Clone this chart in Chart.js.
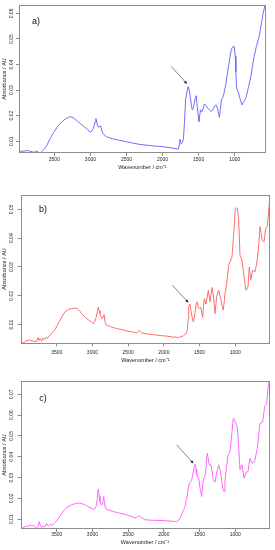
<!DOCTYPE html>
<html><head><meta charset="utf-8">
<script src="https://cdn.jsdelivr.net/npm/chart.js@4"></script>
<style>
html,body{margin:0;padding:0;background:#fff;width:275px;height:550px;overflow:hidden}
canvas{position:absolute;left:0}
</style></head><body>
<canvas id="ca" width="275" height="172" style="top:0px"></canvas>
<canvas id="cb" width="275" height="185" style="top:180px"></canvas>
<canvas id="cc" width="275" height="185" style="top:365px"></canvas>
<script>
// ---------- DATA ----------
const wavenumbersA = [3990,3950,3900,3860,3840,3800,3770,3740,3720,3700,3680,3650,3620,3605,3550,3500,3450,3400,3350,3300,3273,3230,3180,3100,3050,2997,2960,2935,2924,2905,2892,2870,2859,2840,2823,2780,2700,2600,2500,2400,2300,2200,2100,2000,1900,1800,1780,1770,1762,1750,1740,1725,1710,1695,1681,1660,1644,1630,1616,1600,1588,1570,1550,1533,1519,1505,1497,1485,1474,1460,1451,1435,1420,1400,1373,1350,1327,1300,1275,1258,1235,1213,1200,1185,1157,1140,1120,1093,1080,1065,1045,1029,1006,992,983,974,946,920,900,875,845,810,776,750,730,700,661,630,606,578];
const absorbanceA  = [0.0060,0.0061,0.0062,0.0064,0.0060,0.0058,0.0057,0.0062,0.0056,0.0055,0.0058,0.0066,0.0076,0.0083,0.0115,0.0138,0.0160,0.0175,0.0187,0.0194,0.0196,0.0191,0.0178,0.0160,0.0148,0.0134,0.0150,0.0175,0.0189,0.0165,0.0155,0.0158,0.0160,0.0140,0.0129,0.0118,0.0110,0.0104,0.0098,0.0092,0.0087,0.0084,0.0081,0.0079,0.0075,0.0070,0.0069,0.0085,0.0108,0.0098,0.0090,0.0095,0.0110,0.0180,0.0262,0.0295,0.0314,0.0300,0.0275,0.0240,0.0223,0.0233,0.0265,0.0278,0.0236,0.0200,0.0177,0.0200,0.0223,0.0215,0.0216,0.0230,0.0246,0.0240,0.0229,0.0222,0.0216,0.0225,0.0238,0.0242,0.0225,0.0194,0.0220,0.0262,0.0275,0.0300,0.0327,0.0380,0.0400,0.0432,0.0460,0.0469,0.0471,0.0432,0.0370,0.0308,0.0288,0.0260,0.0242,0.0255,0.0269,0.0310,0.0353,0.0400,0.0432,0.0470,0.0510,0.0560,0.0600,0.0634];

const wavenumbersB = [4000,3980,3960,3940,3920,3900,3880,3860,3840,3820,3800,3780,3760,3745,3730,3710,3690,3670,3650,3630,3610,3594,3560,3524,3490,3454,3420,3384,3340,3290,3250,3212,3180,3150,3100,3058,3020,2988,2965,2950,2930,2918,2905,2894,2875,2862,2848,2838,2825,2810,2750,2660,2600,2520,2450,2380,2360,2344,2330,2310,2250,2148,2050,1960,1900,1860,1840,1820,1800,1780,1760,1740,1720,1704,1690,1672,1660,1652,1634,1622,1610,1598,1588,1570,1550,1532,1518,1504,1484,1470,1456,1445,1434,1410,1378,1354,1326,1308,1284,1260,1232,1204,1185,1168,1144,1120,1092,1064,1046,1018,1000,985,972,952,934,906,878,850,822,804,784,757,724,692,670,654,640,626,598,574,552,530,514];
const absorbanceB  = [0.0035,0.0038,0.0036,0.0042,0.0045,0.0043,0.0048,0.0044,0.0046,0.0040,0.0043,0.0041,0.0055,0.0045,0.0052,0.0042,0.0054,0.0047,0.0056,0.0052,0.0060,0.0063,0.0072,0.0083,0.0098,0.0115,0.0130,0.0144,0.0152,0.0156,0.0157,0.0156,0.0148,0.0138,0.0125,0.0117,0.0110,0.0103,0.0112,0.0124,0.0145,0.0161,0.0148,0.0138,0.0125,0.0120,0.0128,0.0135,0.0112,0.0100,0.0093,0.0086,0.0083,0.0078,0.0075,0.0071,0.0076,0.0080,0.0075,0.0071,0.0068,0.0065,0.0062,0.0060,0.0058,0.0055,0.0058,0.0054,0.0057,0.0055,0.0060,0.0058,0.0063,0.0066,0.0068,0.0080,0.0120,0.0161,0.0171,0.0150,0.0132,0.0120,0.0109,0.0130,0.0167,0.0179,0.0160,0.0156,0.0161,0.0140,0.0124,0.0160,0.0190,0.0171,0.0219,0.0179,0.0229,0.0203,0.0138,0.0198,0.0219,0.0190,0.0165,0.0150,0.0206,0.0243,0.0306,0.0324,0.0335,0.0428,0.0503,0.0505,0.0505,0.0463,0.0341,0.0324,0.0266,0.0219,0.0231,0.0300,0.0254,0.0289,0.0283,0.0324,0.0380,0.0440,0.0420,0.0393,0.0387,0.0434,0.0440,0.0500,0.0550];

const wavenumbersC = [4004,3980,3950,3920,3900,3874,3850,3830,3800,3780,3760,3744,3730,3710,3690,3670,3650,3640,3620,3600,3585,3570,3550,3530,3500,3465,3430,3395,3360,3310,3268,3230,3198,3160,3128,3080,3034,3010,2988,2965,2950,2935,2918,2905,2894,2880,2866,2852,2842,2830,2818,2780,2706,2620,2520,2450,2390,2370,2358,2335,2310,2264,2150,2054,1950,1880,1840,1820,1800,1774,1755,1736,1720,1704,1688,1672,1658,1644,1626,1610,1598,1588,1575,1560,1550,1540,1512,1494,1470,1460,1448,1420,1405,1392,1378,1364,1340,1308,1284,1268,1252,1232,1204,1176,1158,1145,1130,1102,1074,1046,1028,1015,1000,985,972,952,934,906,878,850,822,794,766,729,692,654,617,589,561,538,524];
const absorbanceC  = [0.0053,0.0058,0.0062,0.0068,0.0065,0.0073,0.0068,0.0072,0.0062,0.0058,0.0065,0.0088,0.0072,0.0060,0.0068,0.0062,0.0075,0.0080,0.0066,0.0072,0.0078,0.0069,0.0075,0.0082,0.0092,0.0110,0.0129,0.0143,0.0156,0.0166,0.0172,0.0176,0.0178,0.0176,0.0172,0.0165,0.0156,0.0152,0.0148,0.0152,0.0160,0.0190,0.0245,0.0210,0.0184,0.0172,0.0168,0.0185,0.0209,0.0180,0.0153,0.0145,0.0137,0.0129,0.0121,0.0113,0.0105,0.0112,0.0117,0.0113,0.0108,0.0097,0.0095,0.0094,0.0092,0.0090,0.0089,0.0088,0.0092,0.0105,0.0120,0.0137,0.0148,0.0160,0.0190,0.0217,0.0250,0.0273,0.0280,0.0289,0.0310,0.0329,0.0350,0.0364,0.0340,0.0313,0.0297,0.0249,0.0209,0.0250,0.0289,0.0313,0.0370,0.0417,0.0390,0.0361,0.0361,0.0289,0.0278,0.0310,0.0337,0.0361,0.0321,0.0249,0.0233,0.0280,0.0329,0.0409,0.0425,0.0520,0.0585,0.0580,0.0569,0.0555,0.0545,0.0441,0.0337,0.0361,0.0297,0.0325,0.0329,0.0393,0.0369,0.0377,0.0441,0.0561,0.0566,0.0641,0.0657,0.0745,0.0764];

const xTickValues = [3500, 3000, 2500, 2000, 1500, 1000];
const yTicksA = [0.01, 0.02, 0.03, 0.04, 0.05, 0.06];
const yTicksB = [0.01, 0.02, 0.03, 0.04, 0.05];
const yTicksC = [0.01, 0.02, 0.03, 0.04, 0.05, 0.06, 0.07];
const panelLabels = ['a)', 'b)', 'c)'];
const xAxisTitle = 'Wavenumber / cm⁻¹';
const yAxisTitle = 'Absorbance / AU';

// ---------- RENDER ----------
const FONT = '"Liberation Sans", Arial, sans-serif';

const decorPlugin = {
  id: 'decor',
  afterDatasetsDraw(chart, args, o) {
    const {ctx, chartArea: ca, scales: {x, y}} = chart;
    ctx.save();
    ctx.strokeStyle = '#8c8c8c';
    ctx.lineWidth = 1;
    ctx.strokeRect(Math.round(ca.left) + 0.5, Math.round(ca.top) + 0.5,
                   Math.round(ca.right - ca.left) - 1, Math.round(ca.bottom - ca.top) - 1);
    // arrow
    const x1 = x.getPixelForValue(o.arrow[0]), y1 = y.getPixelForValue(o.arrow[1]);
    const x2 = x.getPixelForValue(o.arrow[2]), y2 = y.getPixelForValue(o.arrow[3]);
    ctx.strokeStyle = '#6a6a6a';
    ctx.lineWidth = 0.8;
    ctx.beginPath(); ctx.moveTo(x1, y1); ctx.lineTo(x2, y2); ctx.stroke();
    const ang = Math.atan2(y2 - y1, x2 - x1), L = 3.2, W = 0.45;
    ctx.fillStyle = '#111';
    ctx.beginPath();
    ctx.moveTo(x2, y2);
    ctx.lineTo(x2 - L * Math.cos(ang - W), y2 - L * Math.sin(ang - W));
    ctx.lineTo(x2 - L * Math.cos(ang + W), y2 - L * Math.sin(ang + W));
    ctx.closePath(); ctx.fill();
    // panel label
    ctx.fillStyle = '#111';
    ctx.font = '9px ' + FONT;
    ctx.textAlign = 'center'; ctx.textBaseline = 'middle';
    ctx.fillText(o.label, x.getPixelForValue(o.labelPos[0]), y.getPixelForValue(o.labelPos[1]));
    ctx.restore();
  }
};

function makeChart(id, wn, ab, yTicks, c) {
  const pts = wn.map((w, i) => ({x: w, y: ab[i]}));
  new Chart(document.getElementById(id), {
    type: 'line',
    data: {datasets: [{data: pts, borderColor: c.color, borderWidth: 1, pointRadius: 0, fill: false, tension: 0}]},
    plugins: [decorPlugin],
    options: {
      responsive: false, animation: false, devicePixelRatio: 1,
      layout: {padding: {top: c.padTop, right: c.padRight, left: 0, bottom: 0}},
      plugins: {legend: {display: false}, tooltip: {enabled: false},
        decor: {arrow: c.arrow, label: c.label, labelPos: c.labelPos}},
      scales: {
        x: {
          type: 'linear', reverse: true, min: c.xmin, max: c.xmax,
          afterBuildTicks: s => { s.ticks = xTickValues.map(v => ({value: v})); },
          afterFit: s => { s.height = c.xHeight; },
          grid: {drawOnChartArea: false, tickLength: 3, color: '#8c8c8c'},
          border: {display: false},
          ticks: {font: {family: FONT, size: 5}, color: '#222', padding: c.xTickPad, maxRotation: 0, autoSkip: false,
                  callback: v => String(v)},
          title: {display: true, text: xAxisTitle, font: {family: FONT, size: 5.5}, color: '#222',
                  padding: {top: 0, bottom: c.xTitlePad}}
        },
        y: {
          type: 'linear', min: c.ymin, max: c.ymax,
          afterBuildTicks: s => { s.ticks = yTicks.map(v => ({value: v})); },
          afterFit: s => { s.width = c.yWidth; },
          grid: {drawOnChartArea: false, tickLength: 3, color: '#8c8c8c'},
          border: {display: false},
          ticks: {font: {family: FONT, size: 5}, color: '#222', padding: c.yTickPad, minRotation: 90, maxRotation: 90,
                  crossAlign: 'center', autoSkip: false, callback: v => v.toFixed(2)},
          title: {display: true, text: yAxisTitle, font: {family: FONT, size: 5.5}, color: '#222',
                  padding: {top: 1, bottom: 0}}
        }
      }
    }
  });
}

makeChart('ca', wavenumbersA, absorbanceA, yTicksA, {
  color: '#6e6eff', xmin: 566, xmax: 3990, ymin: 0.0054, ymax: 0.0633,
  padTop: 5, padRight: 9, yWidth: 19, xHeight: 19, xTickPad: 1, xTitlePad: 1.5, yTickPad: -0.9,
  arrow: [1880, 0.0393, 1663, 0.0325], label: panelLabels[0], labelPos: [3754, 0.057]
});
makeChart('cb', wavenumbersB, absorbanceB, yTicksB, {
  color: '#ff6e6e', xmin: 514, xmax: 4004, ymin: 0.0035, ymax: 0.0551,
  padTop: 14.7, padRight: 5, yWidth: 20.7, xHeight: 21.7, xTickPad: 3, xTitlePad: 1.5, yTickPad: 1.1,
  arrow: [1882, 0.0237, 1658, 0.0177], label: panelLabels[1], labelPos: [3692, 0.0501]
});
makeChart('cc', wavenumbersC, absorbanceC, yTicksC, {
  color: '#ff66ff', xmin: 524, xmax: 4004, ymin: 0.0053, ymax: 0.0764,
  padTop: 16, padRight: 5.7, yWidth: 20.7, xHeight: 21, xTickPad: 0, xTitlePad: 4.5, yTickPad: 1.1,
  arrow: [1820, 0.0457, 1588, 0.0369], label: panelLabels[2], labelPos: [3692, 0.0682]
});
</script>
</body></html>
